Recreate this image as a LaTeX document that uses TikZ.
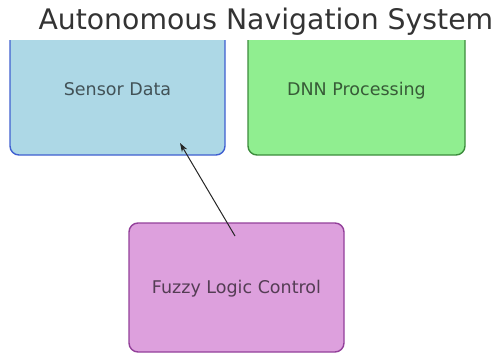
\documentclass[tikz,border=0pt]{standalone}
\usepackage{fontspec}
\setmainfont{DejaVu Sans}
\usetikzlibrary{positioning,arrows.meta}

\definecolor{sensorfill}{HTML}{ADD8E6}
\definecolor{sensorline}{HTML}{3F5FD0}
\definecolor{dnnfill}{HTML}{90EE90}
\definecolor{dnnline}{HTML}{3C8C3C}
\definecolor{fuzzyfill}{HTML}{DDA0DD}
\definecolor{fuzzyline}{HTML}{93409A}

\begin{document}
\begin{tikzpicture}[x=1pt, y=-1pt,
  every node/.style={font=\fontsize{17.5}{20}\selectfont},
  block/.style={draw=#1line, fill=#1fill, text=black!62!#1fill,
                rounded corners=9pt, line width=1.4pt,
                minimum width=215pt, inner sep=0pt,
                text height=12.8pt, text depth=0pt},
  title/.style={font=\fontsize{28.3}{32}\selectfont, text=black!80},
  arr/.style={-{Stealth[length=9pt,width=6pt]}, line width=1pt, black!85}]

\useasboundingbox (0,0) rectangle (496,356);

%% Heading
\node[title, anchor=base west] (head) at (35,29) {Autonomous Navigation System};

%% Top row is cut off at the upper edge of the plot area
\begin{scope}
  \clip (0,40) rectangle (496,356);
  \node[block=sensor, minimum height=132pt] (sensor) at (117.5,89) {Sensor Data};
  \node[block=dnn, minimum width=217pt, minimum height=132pt] (dnn) at (356.5,89) {DNN Processing};
\end{scope}

%% Controller below
\node[block=fuzzy, minimum height=129pt] (fuzzy) at (236.5,287.5) {Fuzzy Logic Control};

%% Feedback arrow: controller -> sensor
\coordinate (fuzzytail) at (235,236);
\coordinate (sensortip) at (180,143);
\draw[arr] (fuzzytail) -- (sensortip);
\end{tikzpicture}
\end{document}
